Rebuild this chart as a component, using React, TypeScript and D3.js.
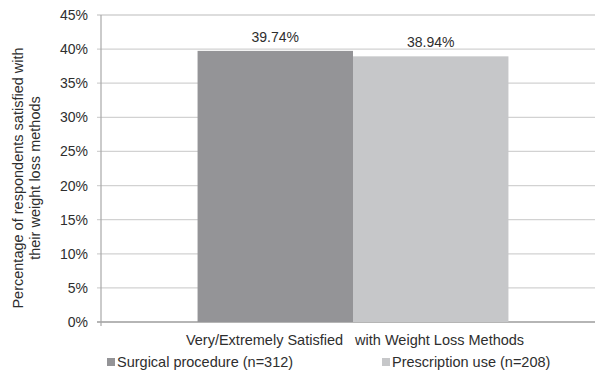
import React from "react";
import * as d3 from "d3";

const categories = ["Very/Extremely Satisfied   with Weight Loss Methods"];
const seriesNames = ["Surgical procedure (n=312)", "Prescription use (n=208)"];
const seriesValues = [39.74, 38.94];
const seriesColors = ["#949497", "#c6c7c9"];
const yTicks = [0, 5, 10, 15, 20, 25, 30, 35, 40, 45];
const yTitleLines = ["Percentage of respondents satisfied with", "their weight loss methods"];

const W = 595;
const H = 371;
const left = 101;
const right = 605;
const top = 15;
const bottom = 322;
const font = "'Liberation Sans', Arial, sans-serif";
const textColor = "#2e2e2e";

export default function App() {
  const y = d3.scaleLinear().domain([0, 45]).range([bottom, top]);
  const x0 = d3.scaleBand().domain(categories).range([left, right]).padding(0.237);
  const x1 = d3
    .scaleBand()
    .domain(seriesNames)
    .range([0, x0.bandwidth()])
    .padding(0);

  return (
    <svg
      width={W}
      height={H}
      style={{ position: "absolute", left: 0, top: 0 }}
      fontFamily={font}
    >
      <rect x={0} y={0} width={W} height={H} fill="#fff" />
      {/* gridlines and ticks */}
      {yTicks.map((t) => (
        <g key={t}>
          <line
            x1={left - 4}
            x2={W}
            y1={y(t)}
            y2={y(t)}
            stroke={t === 0 ? "#9c9c9c" : "#d2d2d2"}
            strokeWidth={1.3}
          />
          <text
            x={88}
            y={y(t) + 5}
            textAnchor="end"
            fontSize={14}
            fill={textColor}
          >
            {t}%
          </text>
        </g>
      ))}
      {/* y axis line */}
      <line x1={left} x2={left} y1={top} y2={bottom + 4} stroke="#a8a8a8" strokeWidth={1.2} />

      {/* bars */}
      {categories.map((c) => (
        <g key={c} transform={`translate(${x0(c)},0)`}>
          {seriesNames.map((s, i) => (
            <g key={s}>
              <rect
                x={x1(s)}
                y={y(seriesValues[i])}
                width={x1.bandwidth()}
                height={y(0) - y(seriesValues[i])}
                fill={seriesColors[i]}
              />
              <text
                x={(x1(s) as number) + x1.bandwidth() / 2}
                y={y(seriesValues[i]) - 9}
                textAnchor="middle"
                fontSize={14}
                fill={textColor}
              >
                {seriesValues[i].toFixed(2)}%
              </text>
            </g>
          ))}
          <text
            x={x0.bandwidth() / 2 + 2}
            y={345}
            textAnchor="middle"
            fontSize={14.5}
            fill={textColor}
            style={{ whiteSpace: "pre" }}
          >
            {c}
          </text>
        </g>
      ))}

      {/* y axis title */}
      <g transform="translate(23,178) rotate(-90)">
        {yTitleLines.map((l, i) => (
          <text
            key={i}
            x={0}
            y={i * 17}
            textAnchor="middle"
            fontSize={14.5}
            fill={textColor}
          >
            {l}
          </text>
        ))}
      </g>

      {/* legend */}
      {seriesNames.map((s, i) => {
        const lx = [107, 382][i];
        return (
          <g key={s}>
            <rect x={lx} y={358} width={8} height={8} fill={seriesColors[i]} />
            <text x={lx + 10} y={367} fontSize={14.5} fill={textColor}>
              {s}
            </text>
          </g>
        );
      })}
    </svg>
  );
}
